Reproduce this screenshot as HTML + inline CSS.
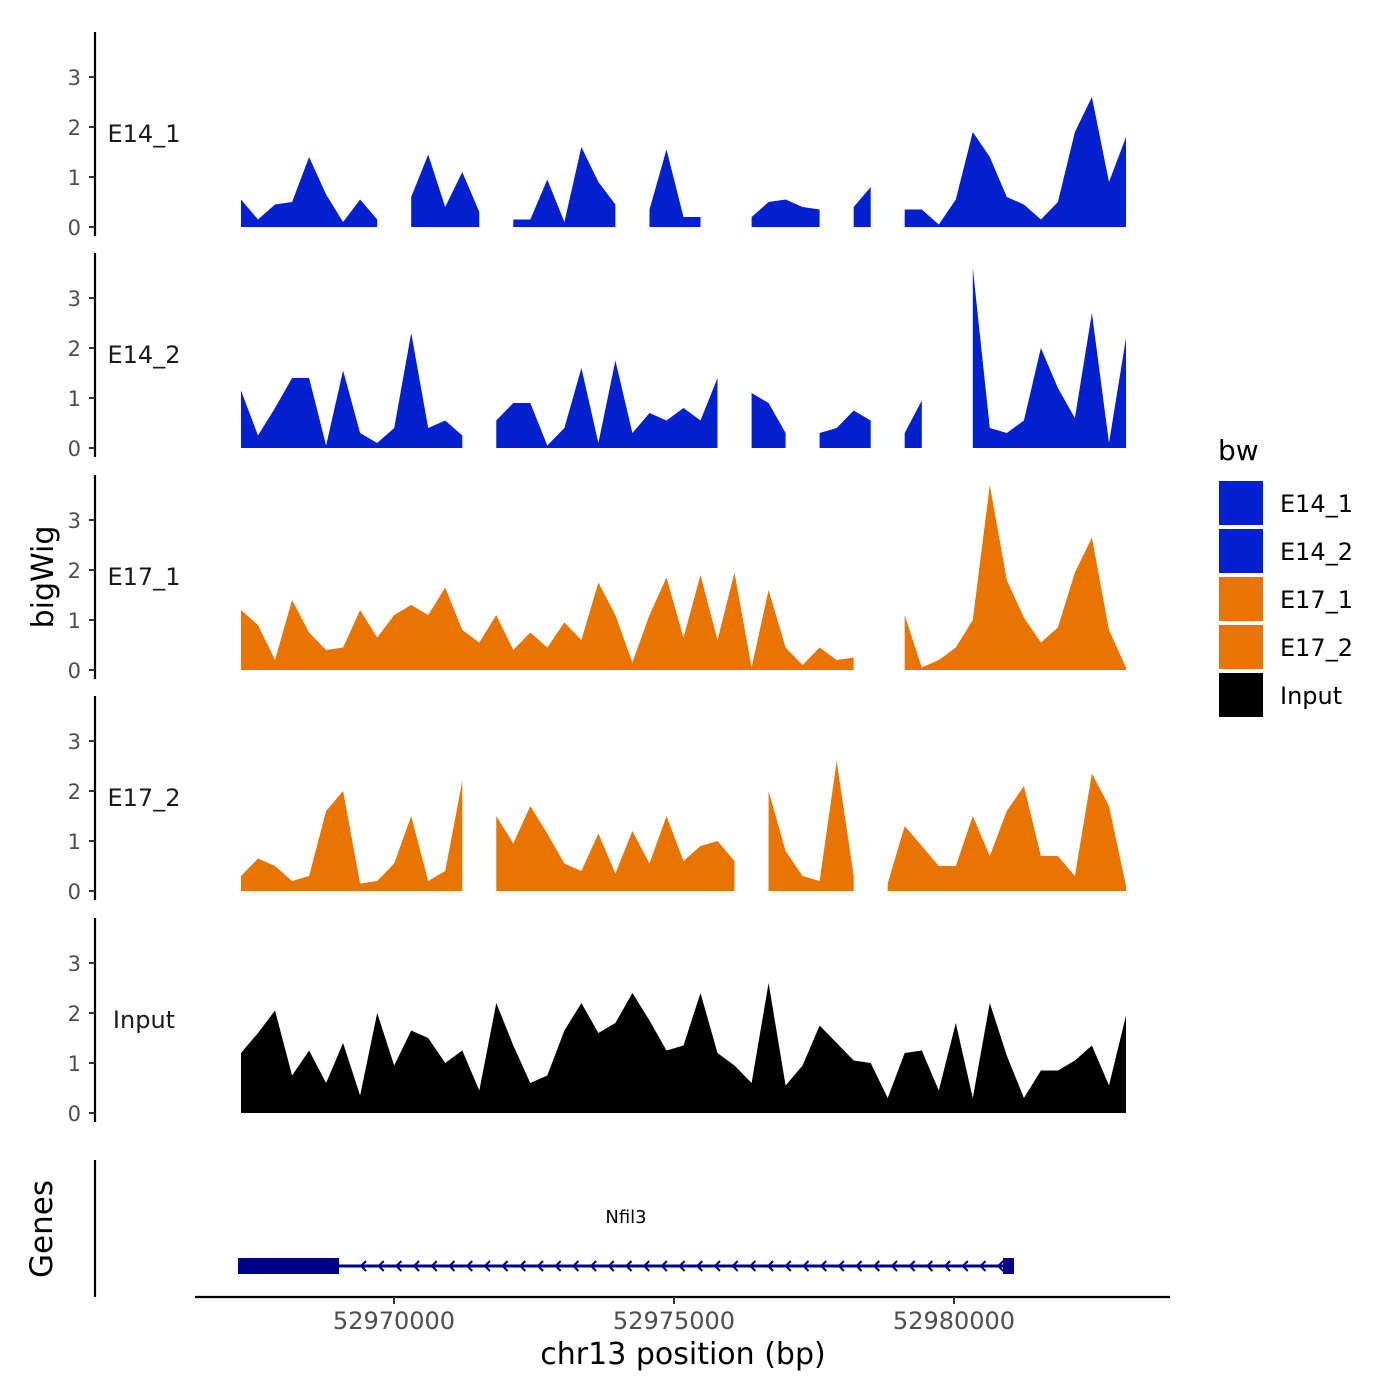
<!DOCTYPE html>
<html><head><meta charset="utf-8"><style>
body{margin:0;background:#fff}
svg{display:block;font-family:"DejaVu Sans","Liberation Sans",sans-serif}
</style></head><body>
<svg id="chart" width="1400" height="1400" viewBox="0 0 1400 1400">
</svg>
<script>
const trackNames = ["E14_1","E14_2","E17_1","E17_2","Input"];
const trackColors = ["#0320CF","#0320CF","#E87503","#E87503","#000000"];
const yTicks = [0,1,2,3];
const xTicks = [52970000,52975000,52980000];
const xTickLabels = ["52970000","52975000","52980000"];
const startBp = 52967268, endBp = 52983071;
const e14_1 = [0.55,0.15,0.45,0.5,1.4,0.65,0.1,0.55,0.15,null,0.6,1.45,0.4,1.1,0.3,null,0.15,0.15,0.95,0.1,1.6,0.9,0.45,null,0.35,1.55,0.2,0.2,null,null,0.2,0.5,0.55,0.4,0.35,null,0.4,0.8,null,0.35,0.35,0.05,0.55,1.9,1.4,0.6,0.45,0.15,0.5,1.9,2.6,0.9,1.8];
const e14_2 = [1.15,0.25,0.8,1.4,1.4,0.05,1.55,0.3,0.1,0.4,2.3,0.4,0.55,0.25,null,0.55,0.9,0.9,0.05,0.4,1.6,0.1,1.75,0.3,0.7,0.55,0.8,0.55,1.4,null,1.1,0.9,0.3,null,0.3,0.4,0.75,0.55,null,0.3,0.95,null,null,3.6,0.4,0.3,0.55,2.0,1.2,0.6,2.7,0.1,2.2];
const e17_1 = [1.2,0.9,0.2,1.4,0.75,0.4,0.45,1.2,0.65,1.1,1.3,1.1,1.65,0.8,0.55,1.1,0.4,0.75,0.45,0.95,0.6,1.75,1.1,0.15,1.1,1.85,0.65,1.9,0.6,1.95,0.05,1.6,0.45,0.1,0.45,0.2,0.25,null,null,1.1,0.05,0.2,0.45,1.0,3.7,1.8,1.05,0.55,0.85,1.95,2.65,0.8,0.05];
const e17_2 = [0.3,0.65,0.5,0.2,0.3,1.6,2.0,0.15,0.2,0.55,1.5,0.2,0.4,2.2,null,1.5,0.95,1.7,1.15,0.55,0.4,1.15,0.35,1.2,0.55,1.5,0.6,0.9,1.0,0.6,null,2.0,0.8,0.3,0.2,2.6,0.3,null,0.15,1.3,0.9,0.5,0.5,1.5,0.7,1.6,2.1,0.7,0.7,0.3,2.35,1.7,0.1];
const input = [1.2,1.6,2.05,0.75,1.25,0.6,1.4,0.35,2.0,0.95,1.65,1.5,1.0,1.25,0.45,2.2,1.35,0.6,0.75,1.65,2.2,1.6,1.8,2.4,1.85,1.25,1.35,2.4,1.2,0.95,0.6,2.6,0.55,0.95,1.75,1.4,1.05,1.0,0.3,1.2,1.25,0.45,1.8,0.3,2.2,1.15,0.3,0.85,0.85,1.05,1.35,0.55,1.95];
const trackData = [e14_1,e14_2,e17_1,e17_2,input];
const legendLabels = ["E14_1","E14_2","E17_1","E17_2","Input"];
const geneName = "Nfil3";
const geneStart = 52967214, geneEnd = 52981071, exon1End = 52969018, exon2Start = 52980875;

const NS="http://www.w3.org/2000/svg";
const svg=document.getElementById('chart');
function el(tag,attrs,parent){const e=document.createElementNS(NS,tag);for(const k in attrs)e.setAttribute(k,attrs[k]);(parent||svg).appendChild(e);return e;}
function xScale(bp){return 394+(bp-52970000)*0.056;}
const baselines=[227,448,670,891,1113];
const panelTops=[32,253,475,696,918];
function yScale(v,p){return baselines[p]-v*50;}

trackData.forEach((vals,p)=>{
  const g=el('g',{});
  
  
  const step=(endBp-startBp)/(vals.length-1);
  let run=[];
  const flush=()=>{
    if(run.length){
      let d='M'+xScale(run[0][0]).toFixed(1)+','+baselines[p];
      run.forEach(r=>{d+=' L'+xScale(r[0]).toFixed(1)+','+yScale(r[1],p).toFixed(1);});
      d+=' L'+xScale(run[run.length-1][0]).toFixed(1)+','+baselines[p]+' Z';
      const a=el('path',{d:d,fill:trackColors[p]},g);
      
      
    }
    run=[];
  };
  vals.forEach((v,i)=>{if(v===null)flush();else run.push([startBp+i*step,v]);});
  flush();
  const ax=el('line',{x1:95,x2:95,y1:panelTops[p],y2:baselines[p]+9,stroke:'#000','stroke-width':2.2});
  
  
  yTicks.forEach(t=>{
    const y=yScale(t,p);
    el('line',{x1:89,x2:95,y1:y,y2:y,stroke:'#333','stroke-width':2});
    const tx=el('text',{x:81,y:y+8,'text-anchor':'end','font-size':21,fill:'#4d4d4d'});
    tx.textContent=t;
    
    
  });
  const lb=el('text',{x:144,y:baselines[p]-85,'text-anchor':'middle','font-size':24,fill:'#1a1a1a'});
  lb.textContent=trackNames[p];
  
  
});

const yt=el('text',{x:0,y:0,transform:'translate(53,577) rotate(-90)','text-anchor':'middle','font-size':30,fill:'#000'});
yt.textContent='bigWig';


const gt=el('text',{x:0,y:0,transform:'translate(52,1229) rotate(-90)','text-anchor':'middle','font-size':31,fill:'#000'});
gt.textContent='Genes';



el('line',{x1:95,x2:95,y1:1160,y2:1297,stroke:'#000','stroke-width':2.2});
const gg=el('g',{});


const gy=1266;
el('line',{x1:xScale(geneStart),x2:xScale(geneEnd),y1:gy,y2:gy,stroke:'#00008B','stroke-width':3},gg);
el('rect',{x:xScale(geneStart),y:gy-8,width:xScale(exon1End)-xScale(geneStart),height:16,fill:'#00008B'},gg);
el('rect',{x:xScale(exon2Start),y:gy-8,width:xScale(geneEnd)-xScale(exon2Start),height:16,fill:'#00008B'},gg);
for(let x=xScale(exon1End)+22;x<xScale(exon2Start);x+=17.7){
  el('polyline',{points:(x+5)+','+(gy-5)+' '+x+','+gy+' '+(x+5)+','+(gy+5),fill:'none',stroke:'#00008B','stroke-width':2},gg);
}
const gn=el('text',{x:626,y:1223,'text-anchor':'middle','font-size':18,fill:'#000'},gg);
gn.textContent=geneName;

const xa=el('line',{x1:195,x2:1170,y1:1297,y2:1297,stroke:'#000','stroke-width':2.2});


xTicks.forEach((t,i)=>{
  const x=xScale(t);
  el('line',{x1:x,x2:x,y1:1297,y2:1304,stroke:'#333','stroke-width':2});
  const tx=el('text',{x:x,y:1329,'text-anchor':'middle','font-size':24,fill:'#4d4d4d'});
  tx.textContent=xTickLabels[i];
  
  
});
const xt=el('text',{x:683,y:1364,'text-anchor':'middle','font-size':30,fill:'#000'});
xt.textContent='chr13 position (bp)';



const lg=el('g',{});


const lt=el('text',{x:1218,y:460,'font-size':28,fill:'#000'},lg);
lt.textContent='bw';
legendLabels.forEach((l,i)=>{
  const y=481+i*48;
  const r=el('rect',{x:1219,y:y,width:44,height:44,fill:trackColors[i]},lg);
  
  
  const t=el('text',{x:1280,y:y+31,'font-size':24,fill:'#000'},lg);
  t.textContent=l;
  
  
});
</script>
</body></html>
